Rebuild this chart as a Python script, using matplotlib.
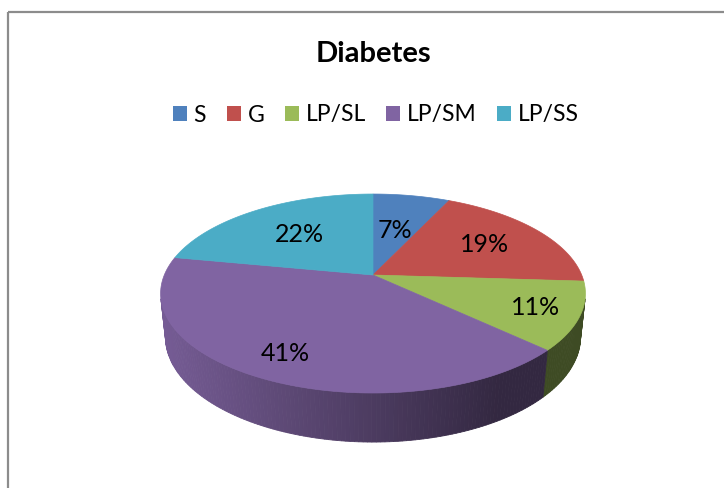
"""
3D-style pie of diabetes shares, drawn with a perspective projection
"""

import numpy as np
import matplotlib.pyplot as plt
from matplotlib.patches import Polygon, Rectangle, Patch
from matplotlib.colors import to_rgb

plt.rcParams["font.family"] = ["Lato", "DejaVu Sans"]

labels = ["S", "G", "LP/SL", "LP/SM", "LP/SS"]
shares = [7, 19, 11, 41, 22]
colors = ["#4F81BD", "#C0504D", "#9BBB59", "#8064A2", "#4BACC6"]
label_r = [0.52, 0.66, 0.8, 0.8, 0.6]  # radial spot of the % labels

# view of the pie (pixels / radians)
CX, CY = 373, 275
SCALE = 208.7
ELEV = np.radians(27.4)
DIST = 4.77
DEPTH = 0.236


def project(r, theta, z=0.0):
    x = r * np.cos(theta)
    y = r * np.sin(theta)
    v = y * np.sin(ELEV) + z * np.cos(ELEV)
    w = y * np.cos(ELEV) - z * np.sin(ELEV)
    f = DIST / (DIST + w)
    return CX + SCALE * x * f, CY - SCALE * v * f


def shade(px):
    # lighter on the left side wall, dark on the right
    t = np.clip((px - 160) / 340.0, 0, 1)
    return 0.92 - 0.52 * t


fig = plt.figure(figsize=(7.24, 4.88), dpi=100)
ax = fig.add_axes([0, 0, 1, 1])
ax.set_xlim(0, 724)
ax.set_ylim(488, 0)
ax.axis("off")

ax.add_patch(Rectangle((8, 12), 800, 600, fill=False, edgecolor="#8c8c8c", lw=1.6))

frac = np.array(shares, dtype=float) / sum(shares)
edges = np.radians(90 - 360 * np.concatenate([[0], np.cumsum(frac)]))

# visible part of the side wall
lim = np.arcsin(1.0 / (DIST * np.cos(ELEV)))
vis_lo, vis_hi = -np.pi + lim, -lim

# side walls
for i in range(len(shares)):
    t0, t1 = edges[i], edges[i + 1]  # t0 > t1
    for shift in (0, 2 * np.pi):
        a, b = max(t1 + shift, vis_lo), min(t0 + shift, vis_hi)
        if a >= b:
            continue
        th = np.linspace(a, b, max(int(np.degrees(b - a)), 2) + 1)
        base = np.array(to_rgb(colors[i]))
        for j in range(len(th) - 1):
            xa, ya = project(1, th[j])
            xb, yb = project(1, th[j + 1])
            xc, yc = project(1, th[j + 1], -DEPTH)
            xd, yd = project(1, th[j], -DEPTH)
            c = base * shade((xa + xb) / 2)
            ax.add_patch(Polygon([(xa, ya), (xb, yb), (xc, yc), (xd, yd)],
                                 closed=True, facecolor=c, edgecolor=c, lw=0.6))

# top surface
for i in range(len(shares)):
    th = np.linspace(edges[i], edges[i + 1], 120)
    px, py = project(1, th)
    pts = [(CX, CY)] + list(zip(px, py))
    ax.add_patch(Polygon(pts, closed=True, facecolor=colors[i],
                         edgecolor=colors[i], lw=0.5))

# percentage labels
for i in range(len(shares)):
    mid = (edges[i] + edges[i + 1]) / 2
    lx, ly = project(label_r[i], mid)
    ax.text(lx, ly, "{}%".format(shares[i]), ha="center", va="center",
            fontsize=18, color="black")

ax.text(373, 54, "Diabetes", ha="center", va="center", fontsize=21,
        fontweight="bold")

handles = [Patch(facecolor=c, edgecolor="none") for c in colors]
fig.legend(handles, labels, loc="center", bbox_to_anchor=(376 / 724, 1 - 115 / 488),
           ncol=5, frameon=False, fontsize=16.5, handlelength=0.6, handleheight=0.6,
           handletextpad=0.3, columnspacing=0.9)

fig.savefig("out.png", dpi=100)
